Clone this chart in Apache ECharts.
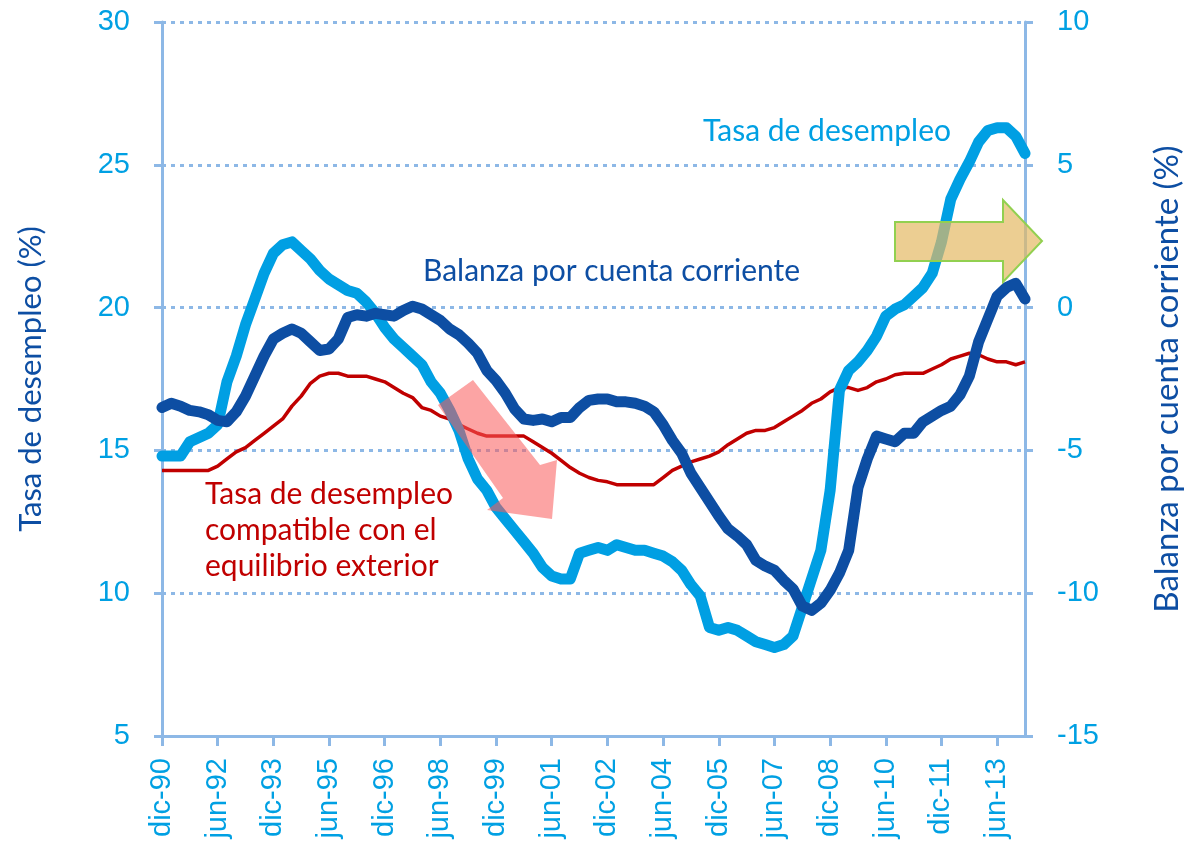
<!DOCTYPE html>
<html>
<head>
<meta charset="utf-8">
<script src="https://cdn.jsdelivr.net/npm/echarts@6/dist/echarts.min.js"></script>
<style>
  html, body { margin: 0; padding: 0; background: #fff; }
  #chart { width: 1184px; height: 849px; }
</style>
</head>
<body>
<div id="chart"></div>
<script>
// trimestres dic-90 .. mar-14
var quarters = [
  'dic-90',
  'mar-91', 'jun-91', 'sep-91', 'dic-91',
  'mar-92', 'jun-92', 'sep-92', 'dic-92',
  'mar-93', 'jun-93', 'sep-93', 'dic-93',
  'mar-94', 'jun-94', 'sep-94', 'dic-94',
  'mar-95', 'jun-95', 'sep-95', 'dic-95',
  'mar-96', 'jun-96', 'sep-96', 'dic-96',
  'mar-97', 'jun-97', 'sep-97', 'dic-97',
  'mar-98', 'jun-98', 'sep-98', 'dic-98',
  'mar-99', 'jun-99', 'sep-99', 'dic-99',
  'mar-00', 'jun-00', 'sep-00', 'dic-00',
  'mar-01', 'jun-01', 'sep-01', 'dic-01',
  'mar-02', 'jun-02', 'sep-02', 'dic-02',
  'mar-03', 'jun-03', 'sep-03', 'dic-03',
  'mar-04', 'jun-04', 'sep-04', 'dic-04',
  'mar-05', 'jun-05', 'sep-05', 'dic-05',
  'mar-06', 'jun-06', 'sep-06', 'dic-06',
  'mar-07', 'jun-07', 'sep-07', 'dic-07',
  'mar-08', 'jun-08', 'sep-08', 'dic-08',
  'mar-09', 'jun-09', 'sep-09', 'dic-09',
  'mar-10', 'jun-10', 'sep-10', 'dic-10',
  'mar-11', 'jun-11', 'sep-11', 'dic-11',
  'mar-12', 'jun-12', 'sep-12', 'dic-12',
  'mar-13', 'jun-13', 'sep-13', 'dic-13',
  'mar-14'
]

// Tasa de desempleo (%) - eje izquierdo
var desempleo = [
  14.8,
  14.8, 14.8, 15.3, 15.45, 15.6, 15.9, 17.4, 18.3, 19.4, 20.3, 21.2, 21.9,
  22.2, 22.3, 22.0, 21.7, 21.3, 21.0, 20.8, 20.6, 20.5, 20.2, 19.8, 19.3,
  18.9, 18.6, 18.3, 18.0, 17.4, 17.0, 16.4, 15.7, 14.7, 14.0, 13.6, 13.0,
  12.6, 12.2, 11.8, 11.4, 10.9, 10.6, 10.5, 10.5, 11.4, 11.5, 11.6, 11.5,
  11.7, 11.6, 11.5, 11.5, 11.4, 11.3, 11.1, 10.8, 10.3, 9.9, 8.8, 8.7,
  8.8, 8.7, 8.5, 8.3, 8.2, 8.1, 8.2, 8.5, 9.5, 10.5, 11.5, 13.6,
  17.1, 17.8, 18.1, 18.5, 19.0, 19.7, 19.95, 20.1, 20.4, 20.7, 21.2, 22.3,
  23.8, 24.5, 25.1, 25.8, 26.2, 26.3, 26.3, 26.0, 25.4
]

// Balanza por cuenta corriente (%) - eje derecho
var balanza = [
  -3.5,
  -3.35, -3.45, -3.6, -3.65, -3.75, -3.95, -4.0, -3.65, -3.1, -2.4, -1.7, -1.1,
  -0.9, -0.75, -0.9, -1.2, -1.5, -1.45, -1.1, -0.35, -0.25, -0.3, -0.2, -0.25,
  -0.3, -0.1, 0.05, -0.05, -0.25, -0.45, -0.75, -0.95, -1.25, -1.6, -2.2, -2.55,
  -3.0, -3.55, -3.9, -3.95, -3.9, -4.0, -3.85, -3.85, -3.5, -3.25, -3.2, -3.2,
  -3.3, -3.3, -3.35, -3.45, -3.65, -4.1, -4.65, -5.1, -5.8, -6.3, -6.8, -7.3,
  -7.75, -8.0, -8.3, -8.85, -9.05, -9.2, -9.55, -9.85, -10.45, -10.6, -10.35, -9.9,
  -9.3, -8.5, -6.3, -5.3, -4.5, -4.6, -4.7, -4.4, -4.4, -4.0, -3.8, -3.6,
  -3.45, -3.05, -2.4, -1.2, -0.4, 0.4, 0.7, 0.85, 0.3
]

// Tasa de desempleo compatible con el equilibrio exterior (%) - eje izquierdo
var compatible = [
  14.3,
  14.3, 14.3, 14.3, 14.3, 14.3, 14.45, 14.7, 14.95, 15.1, 15.35, 15.6, 15.85,
  16.1, 16.55, 16.9, 17.35, 17.6, 17.7, 17.7, 17.6, 17.6, 17.6, 17.5, 17.4,
  17.2, 17.0, 16.85, 16.5, 16.4, 16.2, 16.1, 15.9, 15.75, 15.6, 15.5, 15.5,
  15.5, 15.5, 15.5, 15.3, 15.1, 14.9, 14.65, 14.4, 14.2, 14.05, 13.95, 13.9,
  13.8, 13.8, 13.8, 13.8, 13.8, 14.05, 14.3, 14.45, 14.6, 14.7, 14.8, 14.95,
  15.2, 15.4, 15.6, 15.7, 15.7, 15.8, 16.0, 16.2, 16.4, 16.65, 16.8, 17.05,
  17.2, 17.2, 17.1, 17.2, 17.4, 17.5, 17.65, 17.7, 17.7, 17.7, 17.85, 18.0,
  18.2, 18.3, 18.4, 18.35, 18.2, 18.1, 18.1, 18.0, 18.1
]

var axisColor = '#8db8e6'
var tickColor = '#00a0e3'
var navy = '#0d4ea3'
var textFont = 'Lato'
var numFont = 'Liberation Sans'

var myChart = echarts.init(document.getElementById('chart'))

var option = {
  animation: false,
  grid: {
    left: 162,
    right: 159,
    top: 22,
    bottom: 113,
    outerBoundsMode: 'none'
  },
  xAxis: {
    type: 'category',
    data: quarters,
    boundaryGap: false,
    axisLine: { onZero: false, lineStyle: { color: axisColor, width: 3 } },
    axisTick: {
      interval: 5,
      length: 10,
      lineStyle: { color: axisColor, width: 3 }
    },
    axisLabel: {
      interval: 5,
      rotate: 90,
      margin: 22,
      color: tickColor,
      fontSize: 29,
      fontFamily: numFont
    },
    splitLine: { show: false }
  },
  yAxis: [
    {
      type: 'value',
      min: 5,
      max: 30,
      interval: 5,
      name: 'Tasa de desempleo (%)',
      nameLocation: 'middle',
      nameRotate: 90,
      nameGap: 116,
      nameTextStyle: { color: navy, fontSize: 31, fontFamily: textFont },
      axisLine: { show: true, lineStyle: { color: axisColor, width: 3 } },
      axisTick: { show: true, length: 8, lineStyle: { color: axisColor, width: 3 } },
      axisLabel: { margin: 32, color: tickColor, fontSize: 29, fontFamily: numFont },
      splitLine: {
        show: true,
        lineStyle: { color: axisColor, width: 3, type: [4, 5] }
      }
    },
    {
      type: 'value',
      min: -15,
      max: 10,
      interval: 5,
      position: 'right',
      name: 'Balanza por cuenta corriente (%)',
      nameLocation: 'middle',
      nameRotate: 90,
      nameGap: 126,
      nameTextStyle: { color: navy, fontSize: 33, fontFamily: textFont },
      axisLine: { show: true, lineStyle: { color: axisColor, width: 3 } },
      axisTick: { show: true, length: 8, lineStyle: { color: axisColor, width: 3 } },
      axisLabel: { margin: 32, color: tickColor, fontSize: 29, fontFamily: numFont },
      splitLine: { show: false }
    }
  ],
  series: [
    {
      name: 'Tasa de desempleo compatible con el equilibrio exterior',
      type: 'line',
      yAxisIndex: 0,
      data: compatible,
      symbol: 'none',
      lineStyle: { color: '#c00000', width: 3.5, join: 'round' }
    },
    {
      name: 'Tasa de desempleo',
      type: 'line',
      yAxisIndex: 0,
      data: desempleo,
      symbol: 'none',
      lineStyle: { color: '#009fe3', width: 11, join: 'round', cap: 'round' }
    },
    {
      name: 'Balanza por cuenta corriente',
      type: 'line',
      yAxisIndex: 1,
      data: balanza,
      symbol: 'none',
      lineStyle: { color: navy, width: 11, join: 'round', cap: 'round' }
    }
  ],
  graphic: [
    // flecha roja (bajada)
    {
      type: 'polygon',
      z: 100,
      shape: {
        points: [[438, 405], [473, 380], [540, 465], [557, 460], [552, 519], [487, 510], [503, 498]]
      },
      style: { fill: 'rgba(250, 90, 90, 0.55)', stroke: 'none' }
    },
    // flecha verde (derecha)
    {
      type: 'polygon',
      z: 100,
      shape: {
        points: [[895, 222], [1003, 222], [1003, 200], [1042, 241], [1003, 282], [1003, 261], [895, 261]]
      },
      style: { fill: 'rgba(228, 185, 100, 0.7)', stroke: '#92d050', lineWidth: 2 }
    },
    {
      type: 'text',
      left: 703,
      top: 116,
      style: { text: 'Tasa de desempleo', fill: '#00a0e3', fontSize: 30, fontFamily: textFont }
    },
    {
      type: 'text',
      left: 423,
      top: 256,
      style: { text: 'Balanza por cuenta corriente', fill: navy, fontSize: 30, fontFamily: textFont }
    },
    {
      type: 'text',
      left: 205,
      top: 476,
      style: {
        text: 'Tasa de desempleo\ncompatible con el\nequilibrio exterior',
        fill: '#c00000',
        fontSize: 30,
        lineHeight: 36,
        fontFamily: textFont
      }
    }
  ]
}

myChart.setOption(option)
</script>
</body>
</html>
